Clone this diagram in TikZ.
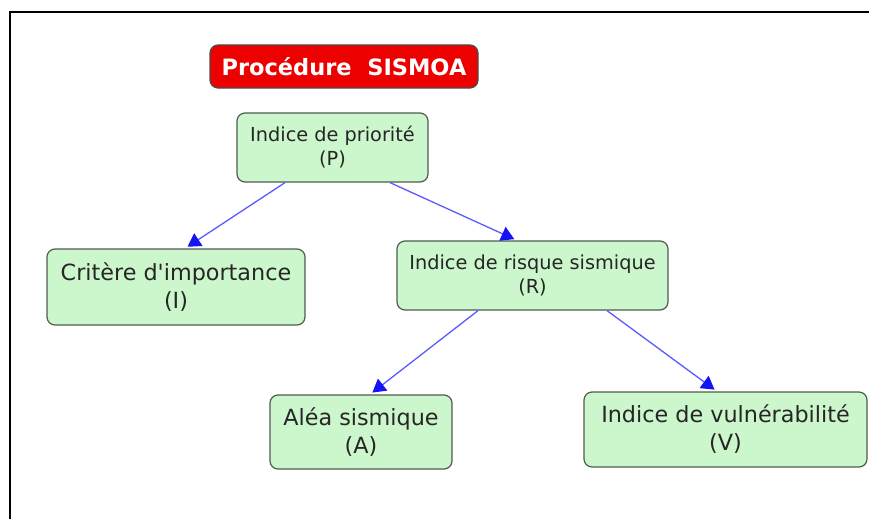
\documentclass[tikz,border=0pt]{standalone}
\usepackage{fontspec}
\setmainfont{DejaVu Sans}
\usepackage{tikz}
\usetikzlibrary{arrows.meta}

\definecolor{boxgreen}{RGB}{204,246,204}
\definecolor{boxline}{RGB}{80,92,80}
\definecolor{titlered}{RGB}{236,0,0}
\definecolor{linkblue}{RGB}{90,90,255}
\definecolor{tipblue}{RGB}{20,20,245}

\begin{document}
\begin{tikzpicture}[x=1pt, y=-1pt,
	concept/.style={shape=rectangle, rounded corners=8pt, draw=boxline, fill=boxgreen, line width=1.2pt, align=center, text=black!85, inner sep=0pt},
	small/.style={concept, font=\fontsize{19.3}{24}\selectfont},
	big/.style={concept, font=\fontsize{22.3}{28}\selectfont},
	link/.style={-{Triangle[length=13pt,width=15pt,color=tipblue]}, color=linkblue, line width=1.3pt, shorten >=3pt}]
	
	\useasboundingbox (0,0) rectangle (869,519);
	\draw[line width=2.4pt] (10,519) |- (869,12);
	
	\node[shape=rectangle, rounded corners=8pt, draw=black!70, fill=titlered, line width=1.2pt, text=white, inner sep=0pt, minimum width=268pt, minimum height=43pt, font=\fontsize{22.5}{26}\selectfont\bfseries] (t) at (344,66.5) {Procédure\ \ SISMOA};
	
	\node[small, minimum width=191pt, minimum height=69pt] (p) at (332.5,147.5) {Indice de priorité\\(P)};
	\node[big,   minimum width=258pt, minimum height=76pt] (i) at (176,287)     {Critère d\textquotesingle importance\\(I)};
	\node[small, minimum width=271pt, minimum height=69pt] (r) at (532.5,275.5) {Indice de risque sismique\\(R)};
	\node[big,   minimum width=182pt, minimum height=74pt] (a) at (361,432)     {Aléa sismique\\(A)};
	\node[big,   minimum width=283pt, minimum height=75pt] (v) at (725.5,429.5) {Indice de vulnérabilité\\(V)};
	
	\draw[link] ([xshift=-47.5pt]p.south) -- ([xshift=9pt]i.north);
	\draw[link] ([xshift=57.5pt]p.south)  -- ([xshift=-15.5pt]r.north);
	\draw[link] ([xshift=-54.5pt]r.south) -- ([xshift=9pt]a.north);
	\draw[link] ([xshift=74.5pt]r.south)  -- ([xshift=-8.5pt]v.north);
	
\end{tikzpicture}
\end{document}
